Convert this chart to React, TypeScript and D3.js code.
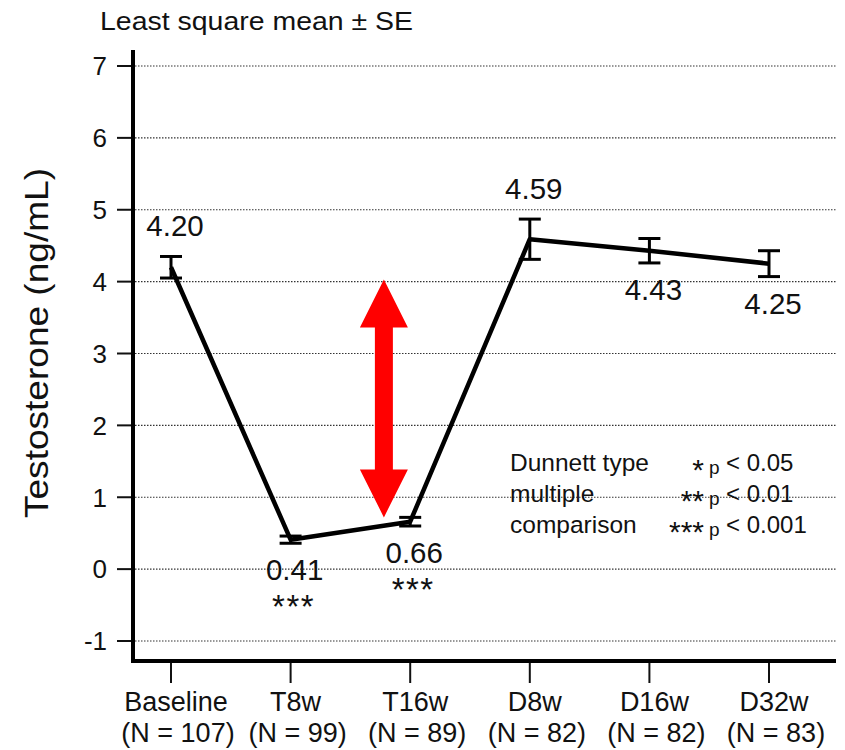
import React from "react";
import * as d3 from "d3";

const categories = ["Baseline", "T8w", "T16w", "D8w", "D16w", "D32w"];
const nLabels = ["(N = 107)", "(N = 99)", "(N = 89)", "(N = 82)", "(N = 82)", "(N = 83)"];
const means = [4.2, 0.41, 0.66, 4.59, 4.43, 4.25];
const ses = [0.15, 0.05, 0.06, 0.28, 0.17, 0.18];
const valueLabels = ["4.20", "0.41", "0.66", "4.59", "4.43", "4.25"];
const labelSide = ["above", "below", "below", "above", "below", "below"];
const stars = ["", "***", "***", "", "", ""];
const yTicks = [-1, 0, 1, 2, 3, 4, 5, 6, 7];
const arrowFrom = 4.03;
const arrowTo = 0.72;
const legendLeft = ["Dunnett type", "multiple", "comparison"];
const legendStars = ["*", "**", "***"];
const legendP = ["< 0.05", "< 0.01", "< 0.001"];

const FONT = "'Liberation Sans', Arial, Helvetica, sans-serif";

export default function App() {
  const W = 845, H = 750;
  const axisX = 133, axisY = 661, rightX = 836;
  const y = d3.scaleLinear().domain([-1, 7]).range([641, 66]);
  const x = d3.scalePoint<string>().domain(categories).range([171, 769]);
  const step = x.step();

  const pts = categories.map((c, i) => [x(c) as number, y(means[i])] as [number, number]);
  const line = d3.line()(pts) as string;

  const ax = (x("T8w") as number) + 0.78 * step;
  const yTop = y(arrowFrom), yBot = y(arrowTo);
  const hw = 24, sw = 9, hh = 48;
  const arrowPath = d3.path();
  arrowPath.moveTo(ax, yTop);
  arrowPath.lineTo(ax + hw, yTop + hh);
  arrowPath.lineTo(ax + sw, yTop + hh);
  arrowPath.lineTo(ax + sw, yBot - hh);
  arrowPath.lineTo(ax + hw, yBot - hh);
  arrowPath.lineTo(ax, yBot);
  arrowPath.lineTo(ax - hw, yBot - hh);
  arrowPath.lineTo(ax - sw, yBot - hh);
  arrowPath.lineTo(ax - sw, yTop + hh);
  arrowPath.lineTo(ax - hw, yTop + hh);
  arrowPath.closePath();

  const capW = 11;

  return (
    <svg width={W} height={H} style={{ position: "absolute", left: 0, top: 0, background: "#fff" }} fontFamily={FONT}>
      <rect width={W} height={H} fill="#fff" />
      {/* title */}
      <text x={100} y={30} fontSize={25} textLength={313} lengthAdjust="spacingAndGlyphs" fill="#111">
        Least square mean ± SE
      </text>
      {/* y axis title */}
      <text
        transform={`translate(48, 343) rotate(-90)`}
        textAnchor="middle"
        fontSize={34}
        textLength={350}
        lengthAdjust="spacingAndGlyphs"
        fill="#111"
      >
        Testosterone (ng/mL)
      </text>
      {/* gridlines */}
      {yTicks.map((t) => (
        <line key={"g" + t} x1={axisX + 2} x2={rightX} y1={y(t)} y2={y(t)} stroke="#333" strokeWidth={1.2} strokeDasharray="1.5,1.5" />
      ))}
      {/* y ticks */}
      {yTicks.map((t) => (
        <g key={"t" + t}>
          <line x1={117} x2={axisX} y1={y(t)} y2={y(t)} stroke="#111" strokeWidth={2} />
          <text x={107} y={y(t)} dy="0.36em" textAnchor="end" fontSize={26} fill="#111">
            {t}
          </text>
        </g>
      ))}
      {/* axes */}
      <line x1={axisX} x2={axisX} y1={50} y2={axisY + 2} stroke="#000" strokeWidth={4} />
      <line x1={axisX - 2} x2={rightX} y1={axisY} y2={axisY} stroke="#000" strokeWidth={4} />
      {/* x ticks and labels */}
      {categories.map((c, i) => (
        <g key={"x" + c}>
          <line x1={x(c)} x2={x(c)} y1={axisY + 2} y2={axisY + 22} stroke="#111" strokeWidth={2} />
          <text x={(x(c) as number) + 5} y={711} textAnchor="middle" fontSize={27} fill="#111">
            {c}
          </text>
          <text x={(x(c) as number) + 7} y={742} textAnchor="middle" fontSize={27} fill="#111">
            {nLabels[i]}
          </text>
        </g>
      ))}
      {/* arrow */}
      <path d={arrowPath.toString()} fill="#ff0000" />
      {/* error bars */}
      {categories.map((c, i) => {
        const cx = x(c) as number;
        const top = y(means[i] + ses[i]);
        const bot = y(means[i] - ses[i]);
        return (
          <g key={"e" + c} stroke="#000" strokeWidth={3}>
            <line x1={cx} x2={cx} y1={top} y2={bot} />
            <line x1={cx - capW} x2={cx + capW} y1={top} y2={top} />
            <line x1={cx - capW} x2={cx + capW} y1={bot} y2={bot} />
          </g>
        );
      })}
      {/* line */}
      <path d={line} fill="none" stroke="#000" strokeWidth={4.5} strokeLinejoin="round" />
      {/* value labels */}
      {categories.map((c, i) => {
        const cx = x(c) as number;
        const top = y(means[i] + ses[i]);
        const bot = y(means[i] - ses[i]);
        const ly = labelSide[i] === "above" ? top - 20 : bot + 37;
        return (
          <g key={"l" + c}>
            <text x={cx + 4} y={ly} textAnchor="middle" fontSize={29.5} fill="#111">
              {valueLabels[i]}
            </text>
            {stars[i] && (
              <text x={cx + 3} y={ly + 38} textAnchor="middle" fontSize={33} letterSpacing={1.5} fill="#111">
                {stars[i]}
              </text>
            )}
          </g>
        );
      })}
      {/* legend */}
      {legendLeft.map((t, i) => (
        <g key={"lg" + i}>
          <text x={510} y={471 + i * 31} fontSize={24.5} fill="#111">
            {t}
          </text>
          <text x={704} y={471 + i * 31 + 9} textAnchor="end" fontSize={30} fill="#111">
            {legendStars[i]}
          </text>
          <text x={709} y={471 + i * 31 + 3} fontSize={19} fill="#111">
            p
          </text>
          <text x={726} y={471 + i * 31} fontSize={24} fill="#111">
            {legendP[i]}
          </text>
        </g>
      ))}
    </svg>
  );
}
